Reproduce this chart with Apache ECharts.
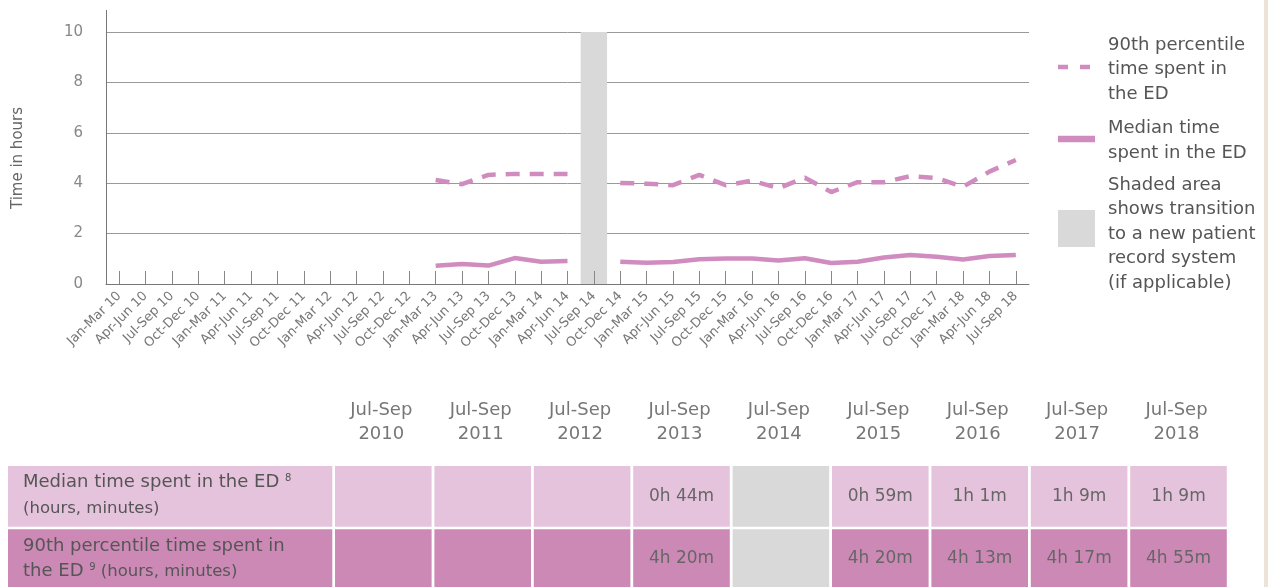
<!DOCTYPE html>
<html>
<head>
<meta charset="utf-8">
<script src="https://cdn.jsdelivr.net/npm/echarts@6/dist/echarts.min.js"></script>
<style>
html,body{margin:0;padding:0;background:#fff;}
#c{width:1268px;height:587px;}
</style>
</head>
<body>
<div id="c"></div>
<script>
// ---- DATA ----
const categories = [
  'Jan-Mar 10','Apr-Jun 10','Jul-Sep 10','Oct-Dec 10',
  'Jan-Mar 11','Apr-Jun 11','Jul-Sep 11','Oct-Dec 11',
  'Jan-Mar 12','Apr-Jun 12','Jul-Sep 12','Oct-Dec 12',
  'Jan-Mar 13','Apr-Jun 13','Jul-Sep 13','Oct-Dec 13',
  'Jan-Mar 14','Apr-Jun 14','Jul-Sep 14','Oct-Dec 14',
  'Jan-Mar 15','Apr-Jun 15','Jul-Sep 15','Oct-Dec 15',
  'Jan-Mar 16','Apr-Jun 16','Jul-Sep 16','Oct-Dec 16',
  'Jan-Mar 17','Apr-Jun 17','Jul-Sep 17','Oct-Dec 17',
  'Jan-Mar 18','Apr-Jun 18','Jul-Sep 18'
];
const medianHours = [
  null,null,null,null,null,null,null,null,null,null,null,null,
  0.72,0.79,0.73,1.03,0.88,0.91,
  null,
  0.88,0.84,0.87,0.98,1.01,1.01,0.93,1.02,0.83,0.88,1.05,1.15,1.08,0.97,1.11,1.15
];
const p90Hours = [
  null,null,null,null,null,null,null,null,null,null,null,null,
  4.13,3.96,4.33,4.37,4.37,4.37,
  null,
  4.01,3.98,3.92,4.33,3.92,4.10,3.80,4.22,3.65,4.04,4.04,4.28,4.20,3.86,4.46,4.92
];
const shadedHours = categories.map(c => c === 'Jul-Sep 14' ? 10 : null);
const yTicks = [0, 2, 4, 6, 8, 10];

const tableYears = ['2010','2011','2012','2013','2014','2015','2016','2017','2018'];
const tableMedian = ['','','','0h 44m','','0h 59m','1h 1m','1h 9m','1h 9m'];
const tableP90 = ['','','','4h 20m','','4h 20m','4h 13m','4h 17m','4h 55m'];
const tableShaded = ['2014'];

const legendP90 = ['90th percentile','time spent in','the ED'];
const legendMedian = ['Median time','spent in the ED'];
const legendShaded = ['Shaded area','shows transition','to a new patient','record system','(if applicable)'];

// ---- STYLE ----
const FONT = '"DejaVu Sans", "Liberation Sans", sans-serif';
const PINK = '#d08cbf';
const LIGHT_ROW = '#e6c3dc';
const DARK_ROW = '#cd89b6';
const GREY = '#d9d9d9';

const chart = echarts.init(document.getElementById('c'));

const graphics = [];
// y axis line (extends above top gridline)
graphics.push({type:'line', shape:{x1:106.5,y1:10,x2:106.5,y2:284}, style:{stroke:'#777',lineWidth:1}, z:10});
// beige strip at right
graphics.push({type:'rect', shape:{x:1264,y:0,width:4,height:587}, style:{fill:'#ede3d8'}});

// legend
const LX = 1058, TX = 1108, LH = 24.5;
graphics.push({type:'line', shape:{x1:LX,y1:67,x2:LX+32,y2:67}, style:{stroke:PINK,lineWidth:4.5,lineDash:[10,12]}});
graphics.push({type:'line', shape:{x1:LX,y1:139,x2:LX+37,y2:139}, style:{stroke:PINK,lineWidth:6.5}});
graphics.push({type:'rect', shape:{x:LX,y:210,width:37,height:37}, style:{fill:GREY}});
function legendLines(lines, y0) {
  lines.forEach((t,i) => graphics.push({type:'text', style:{text:t, x:TX, y:y0+i*LH, fill:'#555', fontSize:18, fontFamily:FONT, verticalAlign:'middle', align:'left'}}));
}
legendLines(legendP90, 45);
legendLines(legendMedian, 128.5);
legendLines(legendShaded, 185);

// table
const COL0 = 335, STEP = 99.4, CW = 96.6;
const R1Y = 466, R1H = 60.7, R2Y = 529.3, R2H = 62;
graphics.push({type:'rect', shape:{x:8,y:R1Y,width:324.3,height:R1H}, style:{fill:LIGHT_ROW}});
graphics.push({type:'rect', shape:{x:8,y:R2Y,width:324.3,height:R2H}, style:{fill:DARK_ROW}});
const richBase = {
  a:{fontSize:18, fontFamily:FONT, fill:'#555'},
  b:{fontSize:16.5, fontFamily:FONT, fill:'#555'},
  s:{fontSize:10, fontFamily:FONT, fill:'#555', verticalAlign:'top'}
};
graphics.push({type:'text', style:{text:'{a|Median time spent in the ED }{s|8}', rich:richBase, x:23, y:482.7, verticalAlign:'middle'}});
graphics.push({type:'text', style:{text:'{b|(hours, minutes)}', rich:richBase, x:23, y:508.3, verticalAlign:'middle'}});
graphics.push({type:'text', style:{text:'{a|90th percentile time spent in}', rich:richBase, x:23, y:546.7, verticalAlign:'middle'}});
graphics.push({type:'text', style:{text:'{a|the ED }{s|9}{b| (hours, minutes)}', rich:richBase, x:23, y:571.7, verticalAlign:'middle'}});

tableYears.forEach((yr, i) => {
  const x = COL0 + i*STEP;
  const cx = x + CW/2;
  const shaded = tableShaded.includes(yr);
  graphics.push({type:'rect', shape:{x:x,y:R1Y,width:CW,height:R1H}, style:{fill: shaded ? GREY : LIGHT_ROW}});
  graphics.push({type:'rect', shape:{x:x,y:R2Y,width:CW,height:R2H}, style:{fill: shaded ? GREY : DARK_ROW}});
  graphics.push({type:'text', style:{text:'Jul-Sep', x:cx-2, y:410, fill:'#777', fontSize:18, fontFamily:FONT, align:'center', verticalAlign:'middle'}});
  graphics.push({type:'text', style:{text:yr, x:cx-2, y:434.5, fill:'#777', fontSize:18, fontFamily:FONT, align:'center', verticalAlign:'middle'}});
  if (tableMedian[i]) graphics.push({type:'text', style:{text:tableMedian[i], x:cx, y:496.5, fill:'#666', fontSize:17, fontFamily:FONT, align:'center', verticalAlign:'middle'}});
  if (tableP90[i]) graphics.push({type:'text', style:{text:tableP90[i], x:cx, y:558.5, fill:'#666', fontSize:17, fontFamily:FONT, align:'center', verticalAlign:'middle'}});
});

const option = {
  animation: false,
  backgroundColor: '#fff',
  grid: {left:106, top:32, width:923, height:252, containLabel:false},
  xAxis: {
    type:'category',
    data: categories,
    boundaryGap: true,
    z: 5,
    axisLine: {show:true, lineStyle:{color:'#777', width:1}},
    axisTick: {show:true, alignWithLabel:true, inside:true, length:13, interval:0, lineStyle:{color:'#888'}},
    axisLabel: {interval:0, rotate:45, fontSize:13, color:'#777', fontFamily:FONT, margin:10},
    splitLine: {show:false}
  },
  yAxis: {
    type:'value',
    min: yTicks[0], max: yTicks[yTicks.length-1], interval: 2,
    name: 'Time in hours',
    nameLocation: 'middle',
    nameRotate: 90,
    nameGap: 80,
    nameTextStyle: {fontSize:15, color:'#666', fontFamily:FONT},
    axisLine: {show:false},
    axisTick: {show:false},
    axisLabel: {fontSize:15, color:'#888', fontFamily:FONT, margin:23},
    splitLine: {show:true, lineStyle:{color:'#999', width:1}}
  },
  series: [
    {
      name:'Shaded area', type:'bar', data: shadedHours, barWidth:'100%',
      itemStyle:{color:GREY}, silent:true, z:1
    },
    {
      name:'90th percentile time spent in the ED', type:'line', data:p90Hours,
      symbol:'none', connectNulls:false, z:3,
      lineStyle:{color:PINK, width:4.5, type:[14,10]}
    },
    {
      name:'Median time spent in the ED', type:'line', data:medianHours,
      symbol:'none', connectNulls:false, z:3,
      lineStyle:{color:PINK, width:4.5}
    }
  ],
  graphic: graphics
};
chart.setOption(option);
</script>
</body>
</html>
